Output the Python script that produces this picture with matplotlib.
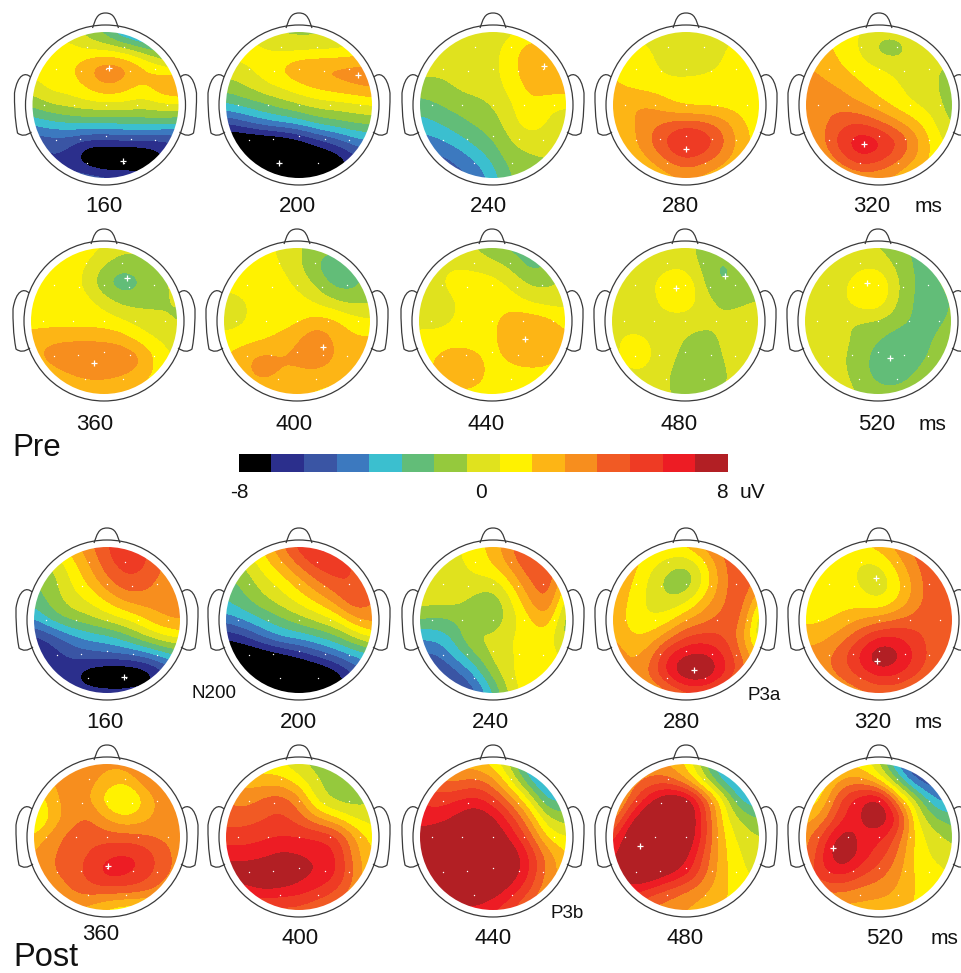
import numpy as np
import matplotlib
matplotlib.use("Agg")
import matplotlib.pyplot as plt
from matplotlib.colors import ListedColormap, BoundaryNorm
from matplotlib.patches import Circle, PathPatch
from matplotlib.path import Path

plt.rcParams['font.family'] = ['Liberation Sans', 'DejaVu Sans']

# Scalp maps: 9x9 samples, front of head first, in colour-bar steps (0 = first cell, 14 = last cell)
pre_160 = [[7,7,7,6,5,3,2,2,2],[8,8,8,7.4,7.3,7,6,5,4],[8,8,8.2,9.5,10.7,10.2,9,8,7.5],[7,8,8,8.7,9.7,9.2,8.2,9.6,10],
           [5.8,6.6,6.9,7.2,7.3,7.3,7,7.4,7.6],[3.8,4.3,4.6,4.9,4.6,4.9,5,5,4.6],[1.5,2,1.8,1,1.2,1.3,1.3,1,1.5],
           [1,1.2,1.2,-.8,-1.5,-1.5,-1.2,.1,1],[2,2,2,2.5,2,2,1.5,2,2]]
pre_200 = [[7,7,7,6.3,6.2,6.2,6.5,7,7],[8,8,7.6,7.2,7.2,7.3,7.3,7.6,7.6],[7,7.4,8,8.7,9.7,9.8,9.9,10,10],
           [6,6.5,7.3,7.8,8.3,9,9.3,9.7,10],[4.5,5,5.4,6,6.6,7,7.1,7.3,7.6],[1.5,2.3,3.2,3.7,4,5,5.3,5.7,5.8],
           [-1,-1,-1,-.8,0,1,2,3,3.5],[-1.5,-1.5,-1.5,-1.5,-1.5,-1,-.5,1,1.5],[-1.5,-1.5,-1.5,-1.5,-1.5,-1,0,1,2]]
pre_240 = [[7,7,7,7,7,7.3,7.5,7.5,7.5],[7,7,7,7,7.2,8,9.3,9.3,8.2],[7,7,7,7,7.2,8.2,9.3,9.4,9.2],[6,6,6.7,7,7,8,8.8,9.3,9.3],
           [5.2,5.6,5.9,6.1,6.6,7.4,8.5,7.6,7.5],[4,4.5,5.2,5.7,6,7.2,8.2,7.4,7],[3,3.3,4,4.9,5.5,6.6,7,7,6.6],
           [2,2,2.6,3.6,4.8,6,6.3,6.5,6.5],[2,2,2,2.5,4,5.6,6,6,6]]
pre_280 = [[7.2,7.2,7.2,7.2,7.2,7.2,7.2,7.2,7.5],[8.5,8,7.5,7,7,7,7.4,8,8],[8.5,8.1,7.9,7,7,7.2,7.6,8,8],
           [8.6,8.2,8,8,8,8,8,8,8],[9.3,9.6,9.5,8.6,8,8,8,8,8],[8.3,9.3,10.2,10.7,11,10.8,10.1,8.6,8],
           [8.2,9.2,10.6,12,13.5,12.5,10.9,9,8],[8,8.6,9.5,10.8,11.6,11,10,8.6,8],[8,8,8.3,9,9.5,9,8.4,8,8]]
pre_320 = [[8,8,8,7.5,7,7,7.3,7.3,7],[9,9,8,7.4,5.8,5.8,7,7,7],[9.5,9.3,8.5,7.9,7.7,7.2,7,6.6,6.3],
           [10,9.7,9.4,8.6,8,7.6,7,6.7,5.8],[10,10.2,10.1,9.5,8.8,8,7.4,7,5.8],[9.5,10.3,11.3,11.5,10.7,9.7,8.7,7.6,6.2],
           [9,10.6,12.4,13.6,13,11.8,10,8,7],[8.5,9.6,11.3,12.6,12,10.8,9.5,8,7.5],[8,8,9,9.5,9.5,9,8,8,8]]
pre_360 = [[8,8,8,8,7.6,6.8,7,7,7],[8,8,8,7.6,6.4,5.8,6,6.5,7],[8,8,8,7.3,5.4,4.6,5.4,6.2,6.8],[8,8,8,8,7.2,6.2,6.2,6.4,6.6],
           [8,8,8,8,8,7.6,7,6.6,6.3],[9,9.2,9.3,9.3,9.2,9,8,7.4,7],[9,10.2,10.6,10.8,10.8,10.5,9.9,8,7.3],
           [8,8.6,9.4,10,10,9.6,9,8,7.6],[8,8,8,8.2,8.3,8.2,8,8,8]]
pre_400 = [[8,8,8,7.3,6.7,6,5.8,6,6.4],[8,8,8,7.6,6.8,5.4,4.7,5,6],[8,8,8,8,7.3,6.4,5,5,6],[6.8,7.3,8,8,8,7.4,6.7,6.2,6.4],
           [6.8,7.3,8,8,8.2,8.9,8.8,8,7.6],[8,8,8.2,8.7,9.4,10.6,9.4,8.6,8.8],[8.5,9.2,10,9.6,9.8,10.3,9.5,9.1,8.8],
           [8,9,10.2,9.4,9.2,9.2,9,8.5,8],[8,8,8.2,8.4,8.5,8.3,8,8,8]]
pre_440 = [[7,7,7,6.5,5.6,5.2,5,5.6,6.5],[7,7.3,7.4,7.3,7,6.3,5,5.3,6.5],[7.2,7.3,8,8,8,7.4,6.4,6.3,6.8],[7,7,7.4,8,8,8,7.4,7,7.2],
           [7,7,7.6,8,8.2,9.2,9.3,9,8],[8,8,8,8,8.2,9.3,9.4,9.3,8.8],[8,8.6,9.2,8.8,8.1,8.8,9.2,9,8.2],
           [8,8.8,9.4,9.2,8.1,8,8,8,8],[8,8,8.2,8.1,8,8,8,8,8]]
pre_480 = [[6.4,7,7,7,7,6,6,6.5,6.5],[6.4,7,7,7.2,7.2,6.2,5,6,6.3],[6.4,7,7.2,8.2,8.7,6.5,5.2,5.9,6.3],[6.4,7,7,8.1,8.3,7,6.3,6.3,6.5],
           [7,7,7,7,7,6.8,6.6,7,7.2],[7.2,7.9,7.5,7,6.4,6.1,6.6,7.3,7.3],[7.2,8,7.8,6.8,6.2,6,6.4,7.3,7.2],
           [7,7.3,7.3,6.5,6,5.8,6.2,7,7],[7,7,7,6.6,6.2,6.2,6.5,7,7]]
pre_520 = [[6,6,6.3,6.5,6.5,5.8,5.2,6,6],[6,6.3,6.9,7.3,7.3,6.3,5.2,5.5,6],[6.5,6.8,7.2,8.2,8.7,6.8,5.3,5.2,6],[7,7,7.2,8.3,8.4,6.5,5.3,4.9,5.6],
           [7.2,7,6.6,6.4,6.4,6,5.3,5,5.8],[7.3,7.9,6.8,6.2,5.6,4.9,4.9,5.5,6.3],[7,7.2,6.6,6,4.9,4.5,4.9,5.8,6.6],
           [7,7,6.8,6,5,4.8,5.6,6.5,6.8],[7,7,7,6.4,6,6,6.4,7,7]]
post_160 = [[8,8,9,10.3,11.5,12.6,11.8,10,9],[6,6.5,8,9.5,11.3,12,11.8,10.6,9.5],[5.5,6,7.5,8.7,10.2,11.4,11,10,9.8],[4.8,6,7,7.6,8.6,9.7,10,10,10],
            [3.5,5,5.8,6.2,7,7.5,8.5,9.5,9.8],[1,1.8,3,3.8,4,5,6.3,7.3,7.8],[0,1,1.6,2,2.2,2.2,2.6,3.6,4.5],
            [-.3,.6,.9,-.6,-1.2,-1.2,-.8,.7,2],[1,1,1,1.2,1.2,1.2,1.5,1.5,2]]
post_200 = [[8,8,8.5,10.5,12,13,12.5,11,10],[6,6.5,8,9.2,10.8,12,12.3,11.5,10],[5,5.8,7,7.8,9,10.4,11.4,11.5,10.5],[4.5,5.3,6.2,7,7.8,8.7,10,11.6,10.5],
            [3,3.7,4.6,5.3,6.2,6.9,7.6,9.5,10],[.5,1.2,2.5,3.6,3.8,4.4,5.2,6.5,7.8],[-1,-1,-.8,-.2,.6,1.6,2.5,3.5,4],
            [-1.5,-1.5,-1.5,-1.5,-1.5,-1.2,-.3,1.5,2.5],[-1.5,-1.5,-1.5,-1.5,-1.5,-1,0,1,2]]
post_240 = [[7,7,7.4,8,9,10.5,12,11,10],[7,7,7.3,7.8,8.6,10,11.5,11.5,9],[7,7,7,7.3,6.9,8.6,10.5,11.5,8],[7,7,6.9,6,5.6,7.4,9.6,11,6.5],
            [5.6,5.2,5.6,6.4,5.6,7,8.4,9.5,5.5],[3.6,3.8,4.9,6.9,6.6,7.6,8,8,6],[2.2,2.3,4,5.3,7,7.3,8.3,8.2,7],
            [1,1,2,3.6,6,7.4,8.5,8.3,7.5],[1,1,1,2,4.5,7,8.2,8.3,8]]
post_280 = [[9,9,9,8.5,8.8,10,11,11,10],[10,9,7.8,6.9,6.3,8,10.5,11.3,10.5],[10,8.5,7.3,5.8,5.4,7.6,10.2,11.5,10],[9.8,8,7.3,6.6,7.2,9,10.4,11.5,8],
            [9.3,8,7.4,8,9.5,10.2,11,11,6.3],[9.5,8.5,8.8,10.2,11.8,12,11.6,10,6.3],[10.5,9.3,10,13,13.8,14,12.8,10.6,8.5],
            [9.6,9.4,10.8,13,15,15,13,11,9],[8.5,8.5,9,10,11,11,10,9,8.5]]
post_320 = [[8,8,8,8.5,9,10,11,11,10],[8.5,8.3,8,7.3,7.2,9,10.5,11.5,11],[8.5,8.2,8,7.3,6.6,8,10,11.3,11.2],[8.5,8.2,8,8,7.3,8.5,10,11.3,11.2],
            [8.2,8.2,8.8,9.5,10,10.5,11,11.3,11],[9,9.3,10.2,11.6,12.8,12.8,11.8,11,10.4],[10,10.2,11.4,13,15,14,12.4,11,10],
            [10,10,10.9,12,13,12.7,11.6,10.6,10],[9,9,9.5,10,10.5,10.5,10,9.5,9]]
post_360 = [[10,10,10,10,9.8,10,11,12,11],[9,9.5,10,10,9,8.5,10,11,11.5],[7.3,9.3,10,9.6,7.6,6.8,8.4,10,10.8],[6.5,8.8,10,10.8,9.3,8.4,9.2,10,10.4],
            [8.8,10,11,11.2,11,11,10.6,10.2,10.3],[9.5,10.5,11,11.5,12.4,12.8,12.4,11,10],[9.5,10.5,11,12,13.3,13,12.2,11,10],
            [9,9.5,10.5,11,11,11,10.8,10,9],[8,9,9.5,9,8,7.5,7.5,8,8]]
post_400 = [[8,8,7.8,7.5,6.6,6,6,6,6],[10,9,9,9,8,6.5,6,6,6],[10.5,10,10.8,11.3,10,7,6,6,6.4],[11,11,11.4,11.8,11,9.5,8.5,7.3,7],
            [12,12,12.3,12.5,12.5,12.5,12,9.5,8],[13,13,13.2,13.8,13.6,13.3,12.8,10,8.3],[14.4,14.4,14.6,15,14,13.6,12.8,10.4,8.5],
            [12.5,13,13.6,13.2,13,12.3,11.5,10,8.2],[11,11,11,11,11,10.5,10,9,8]]
post_440 = [[9,9,8.8,8.8,8,6,3,2,3],[11,10.5,10.4,11,10,7.5,4.5,2.5,3],[12.5,12,12.5,13,12,10,7.5,4,4.5],[13,13,13.8,14.7,13.8,12,9.5,6.5,6],
            [14,14.5,14.8,15,14.7,13.2,11,8,7.5],[14.5,15,15,15,15,14.6,12.5,10,8.5],[15,15,15,15,15,14.5,12.5,10,9],
            [14,15,15,15,14.3,13,11.5,9.5,8.5],[12,13,13,13,12.5,11.5,10,9,8]]
post_480 = [[8,9,9.5,9.3,8.3,5.5,3,3,3],[8,10,11,11,9.5,7,4,2.6,2.5],[8,11,13.4,15,15,11.5,7.8,4,3.5],[9.5,13.5,15,15.5,15.3,12,8,6.3,5.5],
            [12,15,15.5,15.5,15,12,8.5,7,6.5],[13,15,15.5,15.2,14,11.2,8.7,7.4,7],[14,15,15,14,13,10.8,8.8,7.6,7.2],
            [12,13,12,11,10.4,9.6,8.7,8,7.8],[11,11,10,10,9.3,9,8.5,8,8]]
post_520 = [[5,7,8,8,6.5,3,.8,.8,1],[6,8,10,10,8.5,5.5,2.3,1.5,1.5],[7.3,9,12,13.5,14.8,9.8,6.5,3.5,3],[9,10,12.5,13.5,14.8,13,7.5,5.5,5],
            [10,12,14.5,13,13,11.2,8,7,6],[10,13,15,13.2,12,10.5,8,7.3,7],[11,12.6,13,11.8,11,9.8,8.2,7.8,7.4],
            [10,10.5,10.5,10,9.8,9.4,8.4,8,8],[9,9,9,9,9,9,8.2,8,8]]

times_rows = [['160', '200', '240', '280', '320'], ['360', '400', '440', '480', '520']]
bar_colors = ['#000000', '#2B2F8C', '#3A55A4', '#3C79BF', '#3BBFCF', '#62BD78', '#95C93D', '#E0E21E',
              '#FFF200', '#FDB515', '#F78E1E', '#F15A24', '#EE3B24', '#ED1C24', '#B21F24']
bar_ticks = [-8, 0, 8]

maps = [
    (pre_160, 105.5, 105), (pre_200, 299, 105), (pre_240, 493, 105), (pre_280, 686, 105), (pre_320, 879, 105),
    (pre_360, 104, 321), (pre_400, 297, 321), (pre_440, 492, 321), (pre_480, 685, 321), (pre_520, 878, 321),
    (post_160, 107, 620), (post_200, 299, 620), (post_240, 493, 620), (post_280, 686, 620), (post_320, 879, 620),
    (post_360, 107, 837), (post_400, 299, 837), (post_440, 493, 837), (post_480, 686, 837), (post_520, 879, 837),
]
peak_marks = [(109, 68), (122.5, 161), (358, 75), (279, 163), (544, 66), (686, 149), (864, 144),
              (127, 278), (94, 363), (323, 347), (525, 339), (676, 288), (725, 276), (867, 283), (890, 358),
              (124, 677), (694, 670), (876, 578), (877, 661), (108, 866), (640, 846), (833, 848)]
electrodes_x = [-.25, .25, -.34, 0, .34, -.68, .68, -.84, -.43, 0, .43, .84, -.68, -.35, 0, .35, .68, -.26, .26]
electrodes_y = [-.8, -.8, -.47, -.49, -.47, -.5, -.5, 0, 0, 0, 0, 0, .48, .46, .43, .46, .48, .8, .8]

labels = [(times_rows[0], [104, 297, 488, 680, 872], 207), (times_rows[1], [95, 294, 486, 679, 877], 424),
          (times_rows[0], [105, 298, 490, 681, 873], 722)]
last_row = [('360', 101, 935), ('400', 300, 939), ('440', 493, 939), ('480', 685, 939), ('520', 885, 939)]
ms_pos = [(928, 207), (933, 424), (928, 722), (944, 939)]

fig = plt.figure(figsize=(9.61, 9.73), dpi=100)
ax = fig.add_axes([0, 0, 1, 1])
ax.set_axis_off()

cmap = ListedColormap(bar_colors)
edges = np.linspace(-8, 8, 16)
norm = BoundaryNorm(edges, 15, clip=True)
R = 73
OUT = '#3a3a3a'

def head_outline(cx, cy):
    ax.add_patch(Circle((cx, cy), 80, fc='none', ec=OUT, lw=0.9, zorder=4))
    nose = [(-13, -77), (-10, -85), (-9, -92), (0, -92), (9, -92), (10, -85), (13, -77)]
    ncodes = [Path.MOVETO] + [Path.CURVE4] * 6
    ear = [(-75, -28), (-80, -33), (-88, -31), (-91, -12), (-91, 0), (-91, 12), (-88, 28), (-82, 33), (-74, 27)]
    codes = [Path.MOVETO] + [Path.CURVE4] * 6 + [Path.CURVE3] * 2
    for pts, c in [(ear, codes), ([(-x, y) for x, y in ear], codes), (nose, ncodes)]:
        p = Path([(cx + x, cy + y) for x, y in pts], c)
        ax.add_patch(PathPatch(p, fc='none', ec=OUT, lw=0.9, zorder=4))

for grid, cx, cy in maps:
    uv = -8 + (np.array(grid, dtype=float) + .5) * 16 / 15
    e = R * 1.125
    im = ax.imshow(uv, cmap=cmap, norm=norm, extent=(cx - e, cx + e, cy + e, cy - e), origin='upper',
                   interpolation='bicubic', interpolation_stage='data', aspect='auto', zorder=2)
    im.set_clip_path(Circle((cx, cy), R, transform=ax.transData))
    head_outline(cx, cy)
    ax.scatter(cx + R * np.array(electrodes_x), cy + R * np.array(electrodes_y), s=1.0, c='white', linewidths=0, zorder=3)

px, py = zip(*peak_marks)
ax.scatter(px, py, marker='+', s=22, c='white', linewidths=0.9, zorder=5)

fs = 16
for txts, xs, y in labels:
    for t, x in zip(txts, xs):
        ax.text(x, y, t, ha='center', va='center', fontsize=fs, color='#111111')
for t, x, y in last_row:
    ax.text(x, y, t, ha='center', va='center', fontsize=fs, color='#111111')
for x, y in ms_pos:
    ax.text(x, y, 'ms', ha='center', va='center', fontsize=fs - 1, color='#111111')

ax.text(12, 448, 'Pre', ha='left', va='center', fontsize=22.5, color='#111111')
ax.text(13, 957, 'Post', ha='left', va='center', fontsize=23.5, color='#111111')
for t, x, y in [('N200', 214, 694), ('P3a', 764, 695), ('P3b', 567, 913)]:
    ax.text(x, y, t, ha='center', va='center', fontsize=13.5, color='#111111')

# colour bar
bx0, bx1, by0, by1 = 239, 728, 454, 472
ax.imshow(np.linspace(-8, 8, 15)[None, :], cmap=cmap, norm=norm, extent=(bx0, bx1, by1, by0),
          interpolation='nearest', aspect='auto', zorder=2)
for v, x in zip(bar_ticks, [239, 481, 722]):
    ax.text(x, 493, str(v), ha='center', va='center', fontsize=15, color='#111111')
ax.text(752, 493, 'uV', ha='center', va='center', fontsize=15, color='#111111')

ax.set_xlim(0, 961)
ax.set_ylim(973, 0)
fig.savefig('out.png', dpi=100)
